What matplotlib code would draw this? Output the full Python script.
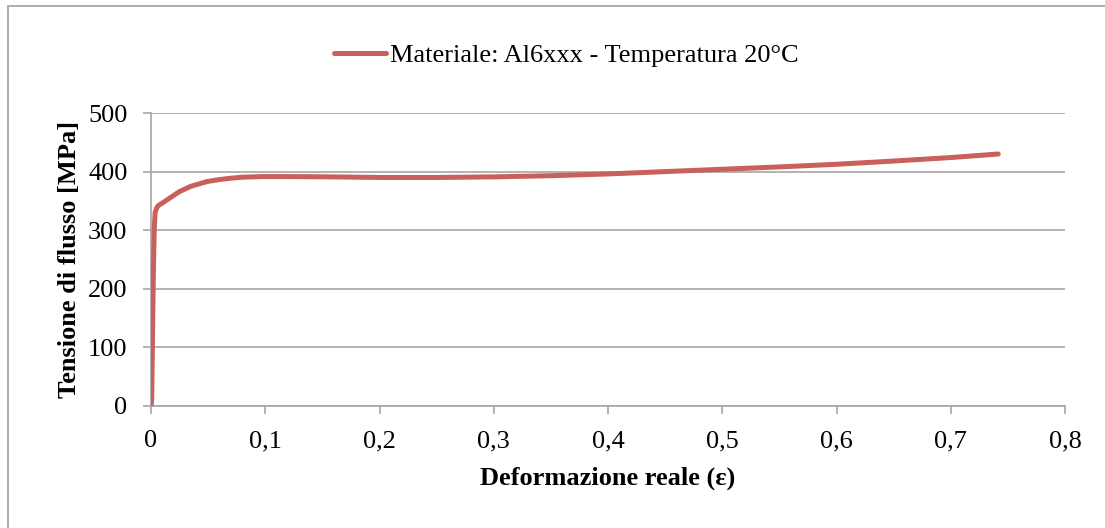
import matplotlib.pyplot as plt
from matplotlib.patches import Rectangle
from matplotlib.ticker import FuncFormatter

# curve (true strain, flow stress MPa)
strain = [0.0, 0.0006, 0.0012, 0.0020, 0.0028, 0.0036, 0.0050, 0.0064, 0.012, 0.018,
          0.025, 0.035, 0.049, 0.060, 0.069, 0.080, 0.098, 0.12, 0.157, 0.20,
          0.25, 0.30, 0.35, 0.40, 0.45, 0.50, 0.55, 0.60, 0.65, 0.70, 0.7416]
stress = [0, 10, 100, 220, 300, 330, 338, 342, 349, 357,
          366, 375, 383, 386.5, 388.5, 390.5, 391.5, 391.5, 391, 390,
          390, 391, 393, 396, 400, 404, 408, 412.5, 418, 424, 430]

series_label = 'Materiale: Al6xxx - Temperatura 20°C'
x_ticks = [0, 0.1, 0.2, 0.3, 0.4, 0.5, 0.6, 0.7, 0.8]
y_ticks = [0, 100, 200, 300, 400, 500]

plt.rcParams['font.family'] = ['Liberation Serif', 'DejaVu Serif']
FS = 19

W, H = 1105, 528
fig = plt.figure(figsize=(W / 100, H / 100), dpi=100)
ax = fig.add_axes([151 / W, 1 - 406 / H, (1065 - 151) / W, (406 - 113) / H])

# outer chart border (only top/left visible in reference)
fig.patches.append(Rectangle((8 / W, -0.1), 1.2, 1 - 6 / H + 0.1, transform=fig.transFigure,
                             fill=False, edgecolor='#a6a6a6', linewidth=1.3))

line_color = '#c9605a'
ax.plot(strain, stress, color=line_color, linewidth=3.6, solid_capstyle='round',
        solid_joinstyle='round', label=series_label, zorder=3)

ax.set_xlim(0, 0.8)
ax.set_ylim(0, 500)
ax.set_xticks(x_ticks)
ax.set_yticks(y_ticks)
ax.xaxis.set_major_formatter(FuncFormatter(lambda v, p: '0' if v == 0 else f'{v:.1f}'.replace('.', ',')))
ax.grid(axis='y', color='#a6a6a6', linewidth=1.2)
ax.set_axisbelow(True)

for s in ['top', 'right']:
    ax.spines[s].set_visible(False)
for s in ['left', 'bottom']:
    ax.spines[s].set_color('#a6a6a6')
    ax.spines[s].set_linewidth(1.2)
ax.tick_params(axis='both', colors='#a6a6a6', width=1.2, length=6, labelcolor='black',
               labelsize=FS)
ax.tick_params(axis='x', pad=11.5)
ax.tick_params(axis='y', pad=11)

ax.set_xlabel('Deformazione reale (ε)', fontsize=FS, fontweight='bold', labelpad=10)
ax.set_ylabel('Tensione di flusso [MPa]', fontsize=FS, fontweight='bold', labelpad=5)

leg = ax.legend(loc='center', bbox_to_anchor=(566 / W, 1 - 55 / H), bbox_transform=fig.transFigure,
                frameon=False, fontsize=FS, handlelength=2.0, handletextpad=0.12)

fig.savefig('out.png', dpi=100)
